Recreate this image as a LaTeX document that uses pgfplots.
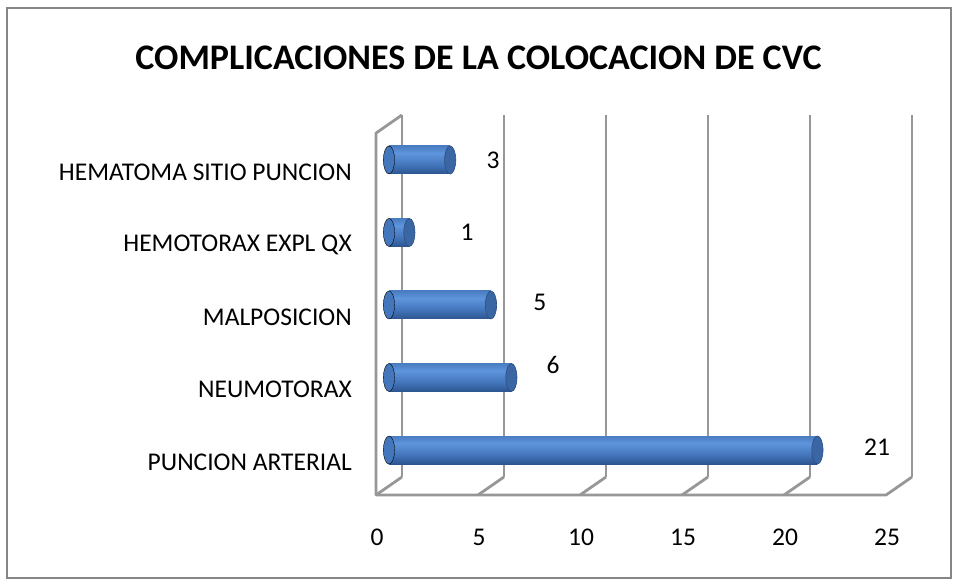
\documentclass[border=0pt]{standalone}
\usepackage{fontspec}
\setmainfont{Carlito}
\usepackage{pgfplots}
\pgfplotsset{compat=1.18}
\definecolor{gridgray}{HTML}{979797}
\definecolor{framegray}{HTML}{868686}
\definecolor{bdark}{HTML}{2C5590}
\definecolor{bmid}{HTML}{4476BC}
\definecolor{blight}{HTML}{5E95DC}
\definecolor{btop}{HTML}{4A7DC2}
\definecolor{capblue}{HTML}{3A66A3}
\definecolor{capdark}{HTML}{2A4E82}
\pgfdeclareverticalshading{cyl}{100bp}{color(0bp)=(bdark); color(25bp)=(bdark); color(42bp)=(bmid); color(62bp)=(blight); color(75bp)=(btop); color(100bp)=(btop)}
\pgfplotsset{cylbar/.style={xbar, bar width=0.386, bar shift=0pt, draw=none, shade, shading=cyl}}
\begin{document}
\begin{tikzpicture}[x=1pt,y=1pt]
\path[use as bounding box] (0,0) rectangle (953,580);
\draw[framegray, line width=1.4pt] (7,2) rectangle (951,572);
\node[font=\fontsize{36}{40}\selectfont\bfseries] at (478.5,522) {COMPLICACIONES DE LA COLOCACION DE CVC};
\begin{axis}[
  at={(376pt,85pt)}, anchor=south west,
  scale only axis, width=536pt, height=380pt,
  xmin=-0.636, xmax=25.636, ymin=-0.62, ymax=4.62,
  enlargelimits=false, clip=false,
  axis line style={draw=none}, major tick length=0pt, tick style={draw=none},
  xtick={0,5,10,15,20,25},
  ytick={0,1,2,3,4},
  yticklabels={PUNCION ARTERIAL\hspace{7pt}, NEUMOTORAX, MALPOSICION\hspace{7pt}, HEMOTORAX EXPL QX, HEMATOMA SITIO PUNCION\hspace{10pt}},
  /pgf/number format/assume math mode=true,
  ticklabel style={font=\fontsize{25.5}{28}\selectfont},
  xticklabel style={anchor=center, yshift=-42pt, xshift=-12pt},
  yticklabel style={anchor=east, inner sep=0pt, xshift=-24pt, yshift=-12pt},
]
% 3D walls and grid
\draw[gridgray, line width=2.8pt] (axis cs:0.636,-0.372) -- (axis cs:0.636,4.62);
\draw[gridgray, line width=2.8pt] (axis cs:5.636,-0.372) -- (axis cs:5.636,4.62);
\draw[gridgray, line width=2.8pt] (axis cs:10.636,-0.372) -- (axis cs:10.636,4.62);
\draw[gridgray, line width=2.8pt] (axis cs:15.636,-0.372) -- (axis cs:15.636,4.62);
\draw[gridgray, line width=2.8pt] (axis cs:20.636,-0.372) -- (axis cs:20.636,4.62);
\draw[gridgray, line width=2.8pt] (axis cs:25.636,-0.372) -- (axis cs:25.636,4.62);
\draw[gridgray, line width=2.8pt, line join=round] (axis cs:0.636,4.62) -- (axis cs:-0.636,4.37) -- (axis cs:-0.636,-0.62) -- (axis cs:24.364,-0.62) -- (axis cs:25.636,-0.372);
\draw[gridgray, line width=2.8pt] (axis cs:-0.636,-0.62) -- (axis cs:0.636,-0.372);
\draw[gridgray, line width=2.8pt] (axis cs:4.364,-0.62) -- (axis cs:5.636,-0.372);
\draw[gridgray, line width=2.8pt] (axis cs:9.364,-0.62) -- (axis cs:10.636,-0.372);
\draw[gridgray, line width=2.8pt] (axis cs:14.364,-0.62) -- (axis cs:15.636,-0.372);
\draw[gridgray, line width=2.8pt] (axis cs:19.364,-0.62) -- (axis cs:20.636,-0.372);
% left rounded ends
\addplot[only marks, mark=*, mark size=14pt, mark options={xscale=0.4, draw=none, fill=bmid}]
  coordinates {(0,0) (0,1) (0,2) (0,3) (0,4)};
% bars (one per category so each gets its own cylinder shading)
\addplot[cylbar] coordinates {(21,0)};
\addplot[cylbar] coordinates {(6,1)};
\addplot[cylbar] coordinates {(5,2)};
\addplot[cylbar] coordinates {(1,3)};
\addplot[cylbar] coordinates {(3,4)};
% right end caps
\addplot[only marks, mark=*, mark size=14pt, mark options={xscale=0.4, fill=capblue, draw=capdark, line width=0.6pt}]
  coordinates {(21,0) (6,1) (5,2) (1,3) (3,4)};
% data labels
\addplot[draw=none, mark=none, nodes near coords, point meta=explicit symbolic,
  nodes near coords style={anchor=center, font=\fontsize{25.5}{28}\selectfont}]
  coordinates {(23.92,0.04)[21] (8.04,1.17)[6] (7.40,2.04)[5] (3.825,3.006)[1] (5.10,4.0)[3]};
\end{axis}
\end{tikzpicture}
\end{document}
